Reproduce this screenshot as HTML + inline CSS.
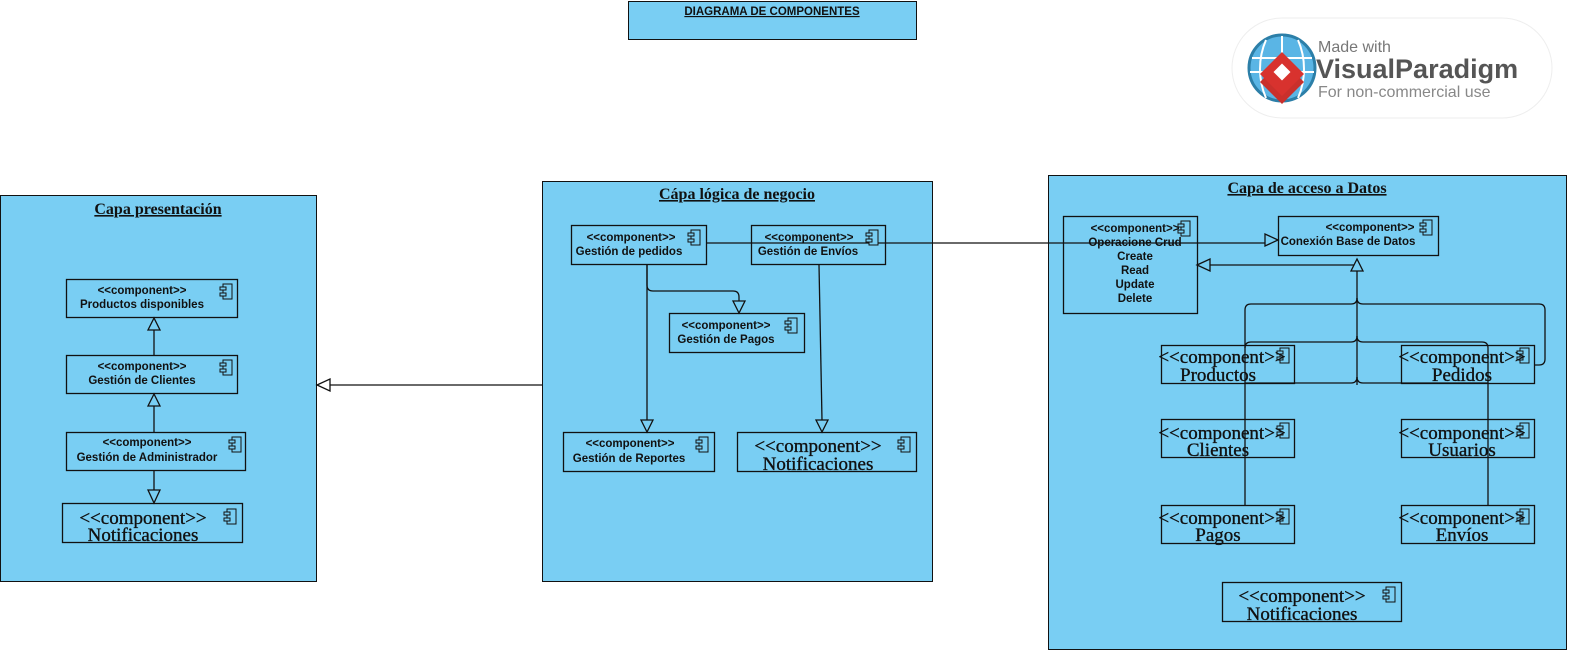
<!DOCTYPE html>
<html><head><meta charset="utf-8"><style>
html,body{margin:0;padding:0;background:#fff;}
svg{display:block}
.s{font-family:"Liberation Sans",sans-serif;font-size:11.5px;font-weight:bold;fill:#111;}
.l{font-family:"Liberation Serif",serif;font-size:19px;fill:#111;stroke:#111;stroke-width:0.35;}
.t{font-family:"Liberation Serif",serif;font-size:16px;font-weight:bold;fill:#111;text-decoration:underline;}
</style></head><body>
<svg width="1589" height="660" viewBox="0 0 1589 660" xmlns="http://www.w3.org/2000/svg">
<defs>
<g id="ic" fill="#79cef3" stroke="#111" stroke-width="1"><rect x="3" y="0" width="9" height="15"/><rect x="0" y="3" width="6" height="3"/><rect x="0" y="9" width="6" height="3"/></g>
</defs>
<rect x="628.5" y="1.5" width="288" height="38" fill="#79cef3" stroke="#111"/>
<text x="772" y="15" class="s" text-anchor="middle" text-decoration="underline">DIAGRAMA DE COMPONENTES</text>

<rect x="1232" y="18" width="320" height="100" rx="50" fill="#fff" stroke="#eee"/>
<circle cx="1282" cy="68" r="33" fill="#5ab5e5" stroke="#2c7fa8" stroke-width="3"/>
<path d="M1252 58h60M1250 72h64M1282 36v66M1266 40c-8 18-8 40 0 58M1298 40c8 18 8 40 0 58" stroke="#fff" stroke-width="2" fill="none"/>
<path d="M1282 60l22 22-22 22-22-22z" fill="#c9302c"/>
<path d="M1282 52l22 22-22 22-22-22z" fill="#d8322e"/>
<rect x="1276" y="66" width="12" height="12" fill="#fff" transform="rotate(45 1282 72)"/>
<text x="1318" y="52" font-family="Liberation Sans,sans-serif" font-size="16" fill="#777">Made with</text>
<text x="1316" y="78" font-family="Liberation Sans,sans-serif" font-size="27" font-weight="bold" fill="#555">VisualParadigm</text>
<text x="1318" y="97" font-family="Liberation Sans,sans-serif" font-size="16" fill="#888">For non-commercial use</text>

<rect x="0.5" y="195.5" width="316" height="386" fill="#79cef3" stroke="#111"/>
<text x="158" y="214" class="t" text-anchor="middle">Capa presentación</text>
<rect x="542.5" y="181.5" width="390" height="400" fill="#79cef3" stroke="#111"/>
<text x="737" y="199" class="t" text-anchor="middle">Cápa lógica de negocio</text>
<rect x="1048.5" y="175.5" width="518" height="474" fill="#79cef3" stroke="#111"/>
<text x="1307" y="193" class="t" text-anchor="middle">Capa de acceso a Datos</text>

<g fill="none" stroke="#111" stroke-width="1.3">
<rect x="66.5" y="279.5" width="171" height="38"/>
<rect x="66.5" y="355.5" width="171" height="38"/>
<rect x="66.5" y="432.5" width="179" height="38"/>
<rect x="62.5" y="503.5" width="180" height="39"/>
<rect x="571.5" y="225.5" width="135" height="39"/>
<rect x="751.5" y="225.5" width="134" height="39"/>
<rect x="669.5" y="313.5" width="135" height="39"/>
<rect x="563.5" y="432.5" width="151" height="39"/>
<rect x="737.5" y="432.5" width="179" height="39"/>
<rect x="1063.5" y="216.5" width="134" height="97"/>
<rect x="1278.5" y="216.5" width="160" height="39"/>
<rect x="1161.5" y="345.5" width="133" height="38"/>
<rect x="1401.5" y="345.5" width="133" height="38"/>
<rect x="1161.5" y="419.5" width="133" height="38"/>
<rect x="1401.5" y="419.5" width="133" height="38"/>
<rect x="1161.5" y="505.5" width="133" height="38"/>
<rect x="1401.5" y="505.5" width="133" height="38"/>
<rect x="1222.5" y="582.5" width="179" height="39"/>

<path d="M154 355V330"/><path d="M154 432V406"/><path d="M154 471V490"/>
<path d="M542 385H330"/>
<path d="M707 243H1265"/>
<path d="M647 265V420"/>
<path d="M647 265V285q0 6 6 6h80q6 0 6 6v4"/>
<path d="M819 265L822 420"/>
<path d="M1357 265H1210"/>
<path d="M1357 271V385"/>
<path d="M1357 298q0 6-6 6H1251q-6 0-6 6V505"/>
<path d="M1357 298q0 6 6 6H1539q6 0 6 6V359q0 6-6 6H1535"/>
<path d="M1357 336q0 6-6 6H1251q-6 0-6 6"/>
<path d="M1357 336q0 6 6 6H1482q6 0 6 6V505"/>
<path d="M1357 377q0 6-6 6H1245"/>
<path d="M1357 377q0 6 6 6H1488"/>
</g>
<g fill="#79cef3" stroke="#111" stroke-width="1.3">
<path d="M154 318l-6 12h12z"/>
<path d="M154 394l-6 12h12z"/>
<path d="M154 503l-6-13h12z"/>
<path d="M317 385l13-6v12z" fill="#fff"/>
<path d="M647 432l-6-12h12z"/>
<path d="M739 313l-6-12h12z"/>
<path d="M822 432l-6-12h12z"/>
<path d="M1278 240l-13-6v12z"/>
<path d="M1197 265l13-6v12z"/>
<path d="M1357 259l-6 12h12z"/>
</g>

<use href="#ic" x="220" y="284"/><use href="#ic" x="220" y="360"/><use href="#ic" x="229" y="437"/><use href="#ic" x="224" y="509"/>
<use href="#ic" x="688" y="230"/><use href="#ic" x="866" y="230"/><use href="#ic" x="785" y="318"/><use href="#ic" x="696" y="437"/><use href="#ic" x="898" y="437"/>
<use href="#ic" x="1178" y="221"/><use href="#ic" x="1420" y="220"/><use href="#ic" x="1277" y="348"/><use href="#ic" x="1517" y="348"/><use href="#ic" x="1277" y="423"/><use href="#ic" x="1517" y="423"/><use href="#ic" x="1277" y="509"/><use href="#ic" x="1517" y="509"/><use href="#ic" x="1383" y="587"/>

<text class="s" x="142" y="294" text-anchor="middle">&lt;&lt;component&gt;&gt;</text>
<text class="s" x="142" y="308" text-anchor="middle">Productos disponibles</text>
<text class="s" x="142" y="370" text-anchor="middle">&lt;&lt;component&gt;&gt;</text>
<text class="s" x="142" y="384" text-anchor="middle">Gestión de Clientes</text>
<text class="s" x="147" y="446" text-anchor="middle">&lt;&lt;component&gt;&gt;</text>
<text class="s" x="147" y="461" text-anchor="middle">Gestión de Administrador</text>
<text class="l" x="143" y="524" text-anchor="middle">&lt;&lt;component&gt;&gt;</text>
<text class="l" x="143" y="541" text-anchor="middle">Notificaciones</text>
<text class="s" x="631" y="241" text-anchor="middle">&lt;&lt;component&gt;&gt;</text>
<text class="s" x="629" y="255" text-anchor="middle">Gestión de pedidos</text>
<text class="s" x="809" y="241" text-anchor="middle">&lt;&lt;component&gt;&gt;</text>
<text class="s" x="808" y="255" text-anchor="middle">Gestión de Envíos</text>
<text class="s" x="726" y="329" text-anchor="middle">&lt;&lt;component&gt;&gt;</text>
<text class="s" x="726" y="343" text-anchor="middle">Gestión de Pagos</text>
<text class="s" x="630" y="447" text-anchor="middle">&lt;&lt;component&gt;&gt;</text>
<text class="s" x="629" y="462" text-anchor="middle">Gestión de Reportes</text>
<text class="l" x="818" y="452" text-anchor="middle">&lt;&lt;component&gt;&gt;</text>
<text class="l" x="818" y="470" text-anchor="middle">Notificaciones</text>
<text class="s" x="1135" y="232" text-anchor="middle">&lt;&lt;component&gt;&gt;</text>
<text class="s" x="1135" y="246" text-anchor="middle">Operacione Crud</text>
<text class="s" x="1135" y="260" text-anchor="middle">Create</text>
<text class="s" x="1135" y="274" text-anchor="middle">Read</text>
<text class="s" x="1135" y="288" text-anchor="middle">Update</text>
<text class="s" x="1135" y="302" text-anchor="middle">Delete</text>
<text class="s" x="1370" y="231" text-anchor="middle">&lt;&lt;component&gt;&gt;</text>
<text class="s" x="1348" y="245" text-anchor="middle">Conexión Base de Datos</text>
<text class="l" x="1222" y="363" text-anchor="middle">&lt;&lt;component&gt;&gt;</text>
<text class="l" x="1218" y="381" text-anchor="middle">Productos</text>
<text class="l" x="1462" y="363" text-anchor="middle">&lt;&lt;component&gt;&gt;</text>
<text class="l" x="1462" y="381" text-anchor="middle">Pedidos</text>
<text class="l" x="1222" y="439" text-anchor="middle">&lt;&lt;component&gt;&gt;</text>
<text class="l" x="1218" y="456" text-anchor="middle">Clientes</text>
<text class="l" x="1462" y="439" text-anchor="middle">&lt;&lt;component&gt;&gt;</text>
<text class="l" x="1462" y="456" text-anchor="middle">Usuarios</text>
<text class="l" x="1222" y="524" text-anchor="middle">&lt;&lt;component&gt;&gt;</text>
<text class="l" x="1218" y="541" text-anchor="middle">Pagos</text>
<text class="l" x="1462" y="524" text-anchor="middle">&lt;&lt;component&gt;&gt;</text>
<text class="l" x="1462" y="541" text-anchor="middle">Envíos</text>
<text class="l" x="1302" y="602" text-anchor="middle">&lt;&lt;component&gt;&gt;</text>
<text class="l" x="1302" y="620" text-anchor="middle">Notificaciones</text>
</svg>
</body></html>
